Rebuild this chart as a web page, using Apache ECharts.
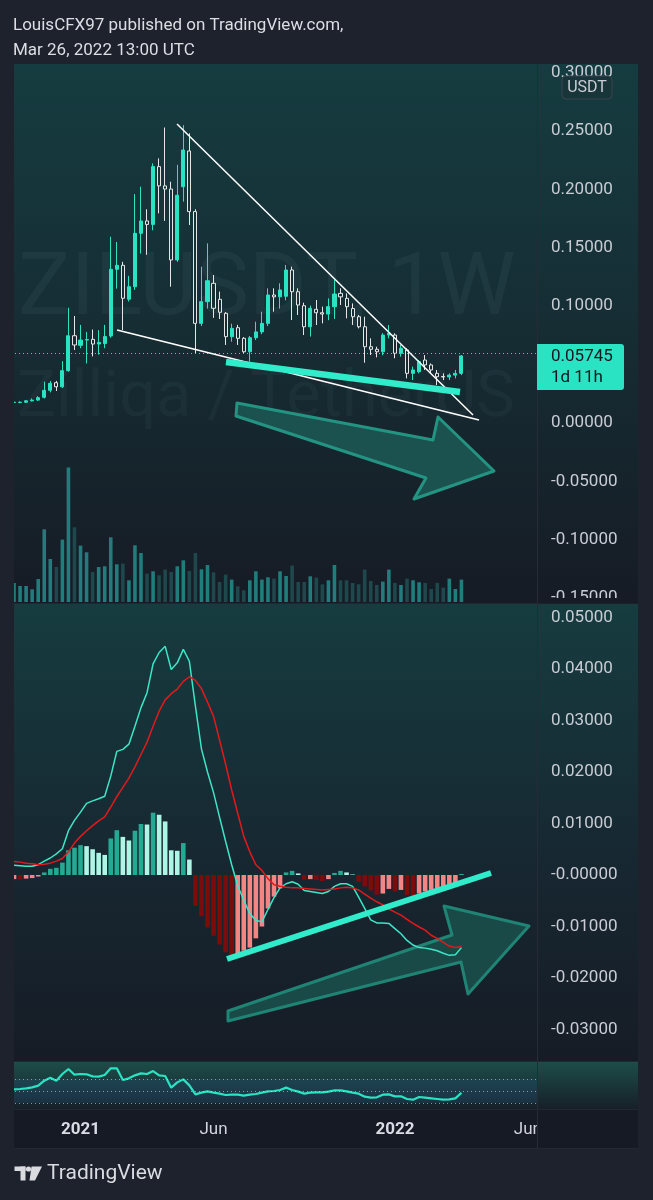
<!DOCTYPE html>
<html><head><meta charset="utf-8">
<script src="https://cdn.jsdelivr.net/npm/echarts@6/dist/echarts.min.js"></script>
<style>html,body{margin:0;padding:0;background:#1e222d;}#c{width:653px;height:1200px;}</style>
</head><body><div id="c"></div>
<script>
// ---------- data (weekly ZIL/USDT, first bar = week of 2020-10-19) ----------
const firstWeek = '2020-10-19';
const futureWeeks = 12;
const opens = [0.0176,0.0175,0.0178,0.0190,0.0196,0.0220,0.0280,0.0345,0.0310,0.0448,
 0.0747,0.0665,0.0710,0.0716,0.0676,0.0680,0.0745,0.1316,0.1350,0.1060,
 0.1167,0.1624,0.1730,0.1700,0.2195,0.2030,0.2003,0.1396,0.2023,0.2329,
 0.1810,0.0853,0.1039,0.1196,0.1059,0.0939,0.0739,0.0816,0.0725,0.0610,
 0.0730,0.0780,0.0853,0.1096,0.1080,0.1085,0.1310,0.1124,0.1004,0.0824,
 0.0973,0.0944,0.0933,0.0996,0.1110,0.1067,0.0980,0.0910,0.0824,0.0653,
 0.0631,0.0610,0.0753,0.0753,0.0597,0.0625,0.0425,0.0439,0.0539,0.0497,
 0.0425,0.0398,0.0394,0.0410,0.0425];
const closes = [0.0178,0.0178,0.0190,0.0196,0.0217,0.0280,0.0340,0.0310,0.0448,0.0747,
 0.0668,0.0710,0.0715,0.0676,0.0690,0.0740,0.1316,0.1350,0.1068,0.1167,
 0.1624,0.1730,0.1700,0.2195,0.2030,0.2003,0.1396,0.1950,0.2337,0.1810,
 0.0853,0.1039,0.1218,0.0982,0.0948,0.0739,0.0810,0.0725,0.0610,0.0730,
 0.0780,0.0853,0.1096,0.1080,0.1139,0.1310,0.1124,0.1010,0.0824,0.0982,
 0.0944,0.0933,0.0996,0.1104,0.1080,0.0996,0.0910,0.0824,0.0653,0.0631,
 0.0610,0.0753,0.0768,0.0597,0.0640,0.0425,0.0454,0.0525,0.0497,0.0454,
 0.0396,0.0394,0.0410,0.0425,0.05745];
const lows = [0.0170,0.0170,0.0172,0.0185,0.0190,0.0210,0.0262,0.0274,0.0300,0.0439,
 0.0625,0.0640,0.0510,0.0570,0.0585,0.0640,0.0730,0.1150,0.0796,0.1040,
 0.1140,0.1450,0.1440,0.1650,0.1795,0.1730,0.1167,0.1380,0.1895,0.1695,
 0.0597,0.0830,0.0980,0.0900,0.0890,0.0668,0.0696,0.0668,0.0593,0.0525,
 0.0710,0.0760,0.0830,0.0953,0.0980,0.1050,0.0882,0.0925,0.0753,0.0740,
 0.0839,0.0853,0.0880,0.0890,0.1010,0.0896,0.0839,0.0810,0.0516,0.0582,
 0.0562,0.0580,0.0725,0.0554,0.0568,0.0382,0.0368,0.0425,0.0454,0.0425,
 0.0325,0.0368,0.0368,0.0382,0.0410];
const highs = [0.0184,0.0185,0.0195,0.0210,0.0230,0.0354,0.0360,0.0360,0.0530,0.0987,
 0.0916,0.0840,0.0780,0.0800,0.0795,0.0840,0.1595,0.1550,0.1380,0.1260,
 0.1960,0.2023,0.1830,0.2223,0.2266,0.2530,0.2066,0.2210,0.2550,0.2480,
 0.1830,0.1338,0.1538,0.1267,0.1125,0.0950,0.0850,0.0840,0.0735,0.0745,
 0.0867,0.0953,0.1153,0.1153,0.1196,0.1353,0.1338,0.1153,0.1030,0.1005,
 0.1053,0.0996,0.1067,0.1224,0.1153,0.1110,0.1024,0.0925,0.0910,0.0725,
 0.0653,0.0770,0.0839,0.0768,0.0668,0.0640,0.0482,0.0539,0.0582,0.0510,
 0.0454,0.0425,0.0425,0.0454,0.0582];
const volumes = [190,160,160,127,230,727,430,350,624,1344,
 747,564,497,300,350,357,647,377,384,217,
 567,490,284,307,267,324,300,357,417,310,
 490,327,370,297,200,274,224,157,117,217,
 307,224,247,234,307,260,364,200,200,257,
 244,177,217,370,217,217,190,177,324,210,
 170,204,324,190,170,234,217,197,190,130,
 190,144,234,130,224];
const macdLine = [0.0019,0.0018,0.0017,0.0017,0.0020,0.0027,0.0033,0.0041,0.0051,0.0086,
 0.0106,0.0122,0.0139,0.0144,0.0148,0.0153,0.0192,0.0240,0.0244,0.0254,
 0.0289,0.0325,0.0354,0.0410,0.0432,0.0444,0.0399,0.0412,0.0438,0.0415,
 0.0328,0.0245,0.0200,0.0160,0.0112,0.0065,0.0020,-0.0021,-0.0049,-0.0075,
 -0.0088,-0.0091,-0.0067,-0.0044,-0.0025,-0.0017,-0.0013,-0.0018,-0.0030,-0.0032,
 -0.0034,-0.0036,-0.0032,-0.0022,-0.0017,-0.0017,-0.0022,-0.0043,-0.0065,-0.0087,
 -0.0093,-0.0093,-0.0094,-0.0104,-0.0114,-0.0127,-0.0136,-0.0141,-0.0142,-0.0144,
 -0.0147,-0.0152,-0.0156,-0.0155,-0.0141];
const signalLine = [0.0026,0.0025,0.0023,0.0022,0.0020,0.0021,0.0023,0.0027,0.0032,0.0045,
 0.0062,0.0075,0.0086,0.0096,0.0105,0.0113,0.0132,0.0152,0.0170,0.0188,
 0.0210,0.0234,0.0258,0.0289,0.0318,0.0340,0.0352,0.0361,0.0376,0.0385,
 0.0378,0.0362,0.0336,0.0308,0.0262,0.0215,0.0165,0.0120,0.0075,0.0045,
 0.0020,0.0009,-0.0007,-0.0019,-0.0022,-0.0024,-0.0025,-0.0025,-0.0026,-0.0027,
 -0.0028,-0.0029,-0.0028,-0.0027,-0.0025,-0.0024,-0.0025,-0.0029,-0.0037,-0.0045,
 -0.0052,-0.0058,-0.0066,-0.0072,-0.0078,-0.0086,-0.0094,-0.0101,-0.0107,-0.0117,
 -0.0123,-0.0131,-0.0138,-0.0141,-0.0139];
const macdHist = [-0.0008,-0.0009,-0.0007,-0.0006,-0.0003,0.0005,0.0012,0.0014,0.0024,0.0048,
 0.0053,0.0058,0.0056,0.0050,0.0043,0.0039,0.0071,0.0087,0.0074,0.0067,
 0.0086,0.0099,0.0098,0.0121,0.0117,0.0104,0.0048,0.0047,0.0062,0.0030,
 -0.0060,-0.0080,-0.0102,-0.0118,-0.0135,-0.0150,-0.0164,-0.0154,-0.0147,-0.0141,
 -0.0123,-0.0100,-0.0065,-0.0042,-0.0026,0.0005,0.0008,0.0003,-0.0009,-0.0008,
 -0.0010,-0.0012,-0.0008,0.0004,0.0008,0.0005,0.0001,-0.0013,-0.0022,-0.0030,
 -0.0038,-0.0036,-0.0027,-0.0032,-0.0029,-0.0039,-0.0042,-0.0036,-0.0032,-0.0029,
 -0.0026,-0.0023,-0.0019,-0.0016,0.0002];
const rsiValues = [52.8,53.3,54.4,56.1,58.9,67.2,71.9,67.2,78.3,86.7,
 77.2,78.3,77.8,74.4,73.9,76.7,87.8,87.8,68.3,71.1,
 76.1,79.4,78.3,83.3,76.1,75.0,55.6,64.4,69.4,59.4,
 44.4,47.2,49.4,47.2,45.6,43.3,43.9,43.9,42.2,43.9,
 45.0,47.2,49.4,50.0,51.7,55.6,51.7,48.9,45.6,47.2,
 47.8,47.8,48.9,51.1,51.1,49.4,47.2,45.6,40.6,38.9,
 39.4,43.9,44.4,41.1,41.1,36.7,35.6,40.0,38.9,37.8,
 36.7,35.6,36.1,37.8,47.2];
const priceTicks = [0.30,0.25,0.20,0.15,0.10,0.05,0.00,-0.05,-0.10,-0.15];
const macdTicks = [0.05,0.04,0.03,0.02,0.01,0.00,-0.01,-0.02,-0.03];
const rsiLevels = [70,50,30];
const timeTickDates = ['2021-01-04','2021-06-07','2022-01-03','2022-06-06'];
const timeTickLabels = ['2021','Jun','2022','Jun'];
const countdownText = '1d 11h';
const symbolWatermark = 'ZILUSDT, 1W';
const nameWatermark = 'Zilliqa / TetherUS';

// ---------- derived ----------
const nBars = opens.length;
const cats = [];
const t0 = Date.parse(firstWeek + 'T00:00:00Z');
for (let i = 0; i < nBars + futureWeeks; i++) cats.push(new Date(t0 + i * 7 * 86400000).toISOString().slice(0, 10));
const lastPrice = closes[nBars - 1];

const UP = '#2ae3c2', DOWN_BORDER = '#e6e6e6';
const candleData = opens.map((o, i) => [o, closes[i], lows[i], highs[i]]);
const volData = volumes.map((v, i) => ({value: v, itemStyle: {color: closes[i] >= opens[i] ? '#217c7c' : '#1e484b'}}));
const histData = macdHist.map((v, i) => {
  const prev = i > 0 ? macdHist[i - 1] : null;
  let c;
  if (v >= 0) c = (prev === null || v >= prev) ? '#24a992' : '#aef5e6';
  else c = (prev === null || v > prev) ? '#f28686' : '#7c0c0c';
  return {value: v, itemStyle: {color: c}};
});

const FONT = 'Roboto, "Noto Sans", sans-serif';
const chart = echarts.init(document.getElementById('c'), null, {renderer: 'canvas'});

const tickIdx = new Set(timeTickDates.map(d => cats.indexOf(d)));
const xBase = {type: 'category', data: cats, boundaryGap: true, axisLine: {show: false}, axisTick: {show: false}, axisLabel: {show: false}, splitLine: {show: false}};
const yLabel = {color: '#c9ccd4', fontSize: 17, margin: 14, fontFamily: FONT};

const grids = [
  {left: 11, right: 116, top: 64, height: 539},
  {left: 11, right: 116, top: 441, height: 161},
  {left: 11, right: 116, top: 604, height: 457},
  {left: 11, right: 116, top: 1063, height: 45}
];

chart.setOption({
  animation: false,
  backgroundColor: 'transparent',
  textStyle: {fontFamily: FONT},
  grid: grids,
  xAxis: [
    Object.assign({}, xBase, {gridIndex: 0}),
    Object.assign({}, xBase, {gridIndex: 1}),
    Object.assign({}, xBase, {gridIndex: 2}),
    Object.assign({}, xBase, {gridIndex: 3, axisLabel: {
      show: true, margin: 13, color: '#d1d4dc', fontSize: 17, fontFamily: FONT,
      interval: (i) => tickIdx.has(i),
      formatter: (v) => { const j = timeTickDates.indexOf(v); if (j < 0) return ''; const t = timeTickLabels[j]; return /^\d{4}$/.test(t) ? '{y|' + t + '}' : t; },
      rich: {y: {fontWeight: 'bold', fontSize: 17, color: '#d9dce3', fontFamily: FONT}}
    }})
  ],
  yAxis: [
    {gridIndex: 0, type: 'value', position: 'right', min: -0.15411, max: 0.30736, axisLine: {show: false}, axisTick: {show: false}, splitLine: {show: false},
     axisLabel: Object.assign({customValues: priceTicks, formatter: v => v.toFixed(5)}, yLabel)},
    {gridIndex: 1, type: 'value', min: 0, max: 1610, show: false, splitLine: {show: false}},
    {gridIndex: 2, type: 'value', position: 'right', min: -0.036117, max: 0.052621, axisLine: {show: false}, axisTick: {show: false}, splitLine: {show: false},
     axisLabel: Object.assign({customValues: macdTicks, formatter: v => Math.abs(v) < 1e-9 ? '-0.00000' : v.toFixed(5)}, yLabel)},
    {gridIndex: 3, type: 'value', min: 21.67, max: 96.67, show: false, splitLine: {show: false}}
  ],
  series: [
    {type: 'bar', name: 'Volume', xAxisIndex: 1, yAxisIndex: 1, data: volData, barWidth: 3.6, z: 1},
    {type: 'candlestick', name: 'ZILUSDT', xAxisIndex: 0, yAxisIndex: 0, data: candleData, barWidth: 3.6, z: 3,
     itemStyle: {color: UP, borderColor: UP, color0: 'rgba(0,0,0,0)', borderColor0: DOWN_BORDER, borderWidth: 1},
     markLine: {silent: true, symbol: ['none', 'none'], label: {show: false}, lineStyle: {color: '#2ae3c2', type: [1, 3], width: 1}, data: [{yAxis: lastPrice}]}},
    {type: 'bar', name: 'Histogram', xAxisIndex: 2, yAxisIndex: 2, data: histData, barWidth: 4.6, z: 2},
    {type: 'line', name: 'MACD', xAxisIndex: 2, yAxisIndex: 2, data: macdLine, symbol: 'none', lineStyle: {color: '#3de6c6', width: 1.5}, z: 4},
    {type: 'line', name: 'Signal', xAxisIndex: 2, yAxisIndex: 2, data: signalLine, symbol: 'none', lineStyle: {color: '#e3191c', width: 1.5}, z: 4},
    {type: 'line', name: 'RSI', xAxisIndex: 3, yAxisIndex: 3, data: rsiValues, symbol: 'none', lineStyle: {color: '#2ae3c2', width: 2.2}, z: 4,
     markLine: {silent: true, symbol: ['none', 'none'], label: {show: false}, lineStyle: {color: 'rgba(215,220,228,0.6)', type: [1, 3], width: 1}, data: rsiLevels.map(v => ({yAxis: v}))},
     markArea: {silent: true, itemStyle: {color: 'rgba(40,95,150,0.22)'}, data: [[{yAxis: rsiLevels[2]}, {yAxis: rsiLevels[0]}]]}}
  ]
});

// ---------- decorations ----------
const lg = (stops) => ({type: 'linear', x: 0, y: 0, x2: 0, y2: 1, colorStops: stops.map(s => ({offset: s[0], color: s[1]}))});
const pxLast = chart.convertToPixel({yAxisIndex: 0}, lastPrice);
const g = [];
// pane backgrounds
g.push({type: 'rect', z: -10, silent: true, shape: {x: 14, y: 64, width: 624, height: 539}, style: {fill: lg([[0, '#153c40'], [0.55, '#162b32'], [1, '#161b25']])}});
g.push({type: 'rect', z: -10, silent: true, shape: {x: 14, y: 604, width: 624, height: 457}, style: {fill: lg([[0, '#163c40'], [0.6, '#172630'], [1, '#161c26']])}});
g.push({type: 'rect', z: -10, silent: true, shape: {x: 14, y: 1062, width: 624, height: 47}, style: {fill: lg([[0, '#1c4d48'], [1, '#171f29']])}});
g.push({type: 'rect', z: -10, silent: true, shape: {x: 14, y: 1110, width: 624, height: 38}, style: {fill: '#161a25'}});
// watermark
g.push({type: 'text', z: -5, silent: true, style: {text: symbolWatermark, x: 18, y: 292, font: '88px Roboto', fill: 'rgba(190,230,230,0.05)', textVerticalAlign: 'middle', verticalAlign: 'middle'}});
g.push({type: 'text', z: -5, silent: true, style: {text: nameWatermark, x: 17, y: 400, font: '65px Roboto', fill: 'rgba(190,230,230,0.04)', textVerticalAlign: 'middle', verticalAlign: 'middle'}});
// separators
g.push({type: 'line', z: 60, silent: true, shape: {x1: 537.5, y1: 64, x2: 537.5, y2: 1148}, style: {stroke: '#262b36', lineWidth: 1}});
[603.5, 1061.5, 1109.5, 1148.5].forEach(y => g.push({type: 'line', z: 60, silent: true, shape: {x1: 14, y1: y, x2: 638, y2: y}, style: {stroke: '#222733', lineWidth: 1}}));
// annotations: main pane
g.push({type: 'polygon', z: 5, silent: true, shape: {points: [[237, 403], [433, 440], [438, 417], [494, 471], [414, 499], [426, 478], [236, 416]]}, style: {fill: '#1b524f', stroke: '#249482', lineWidth: 3, lineJoin: 'round'}});
g.push({type: 'line', z: 20, silent: true, shape: {x1: 177, y1: 124, x2: 473, y2: 415}, style: {stroke: '#ffffff', lineWidth: 1.5}});
g.push({type: 'line', z: 20, silent: true, shape: {x1: 117, y1: 330, x2: 479, y2: 420}, style: {stroke: '#ffffff', lineWidth: 1.5}});
g.push({type: 'line', z: 21, silent: true, shape: {x1: 226, y1: 362, x2: 460, y2: 392}, style: {stroke: '#30ecca', lineWidth: 6.5}});
// annotations: MACD pane
g.push({type: 'polygon', z: 1, silent: true, shape: {points: [[228, 1011], [452, 935], [444, 906], [529, 926], [468, 994], [461, 962], [228, 1021]]}, style: {fill: '#1a4a48', stroke: '#1f8474', lineWidth: 3, lineJoin: 'round'}});
g.push({type: 'line', z: 21, silent: true, shape: {x1: 227, y1: 959, x2: 491, y2: 873}, style: {stroke: '#30ecca', lineWidth: 6}});
// covers (clip)
g.push({type: 'rect', z: 100, silent: true, shape: {x: 0, y: 64, width: 14, height: 1090}, style: {fill: '#1e222d'}});
g.push({type: 'rect', z: 100, silent: true, shape: {x: 538, y: 1110, width: 100, height: 38}, style: {fill: '#161a25'}});
g.push({type: 'rect', z: 100, silent: true, shape: {x: 538, y: 598, width: 100, height: 5.5}, style: {fill: '#161b25'}});
g.push({type: 'rect', z: 100, silent: true, shape: {x: 538, y: 604, width: 100, height: 6}, style: {fill: '#163c40'}});
// price box
g.push({type: 'rect', z: 90, silent: true, shape: {x: 537, y: pxLast - 12, width: 87, height: 46, r: [0, 3, 3, 0]}, style: {fill: '#2ae3c2'}});
g.push({type: 'text', z: 91, silent: true, style: {text: lastPrice.toFixed(5), x: 551, y: pxLast + 1, font: '17px Roboto', fill: '#131722', textVerticalAlign: 'middle', verticalAlign: 'middle'}});
g.push({type: 'text', z: 91, silent: true, style: {text: countdownText, x: 551, y: pxLast + 22, font: '17px Roboto', fill: '#131722', textVerticalAlign: 'middle', verticalAlign: 'middle'}});
// USDT badge
g.push({type: 'rect', z: 90, silent: true, shape: {x: 562, y: 76, width: 50, height: 23, r: 4}, style: {fill: '#18353a', stroke: '#3b4550', lineWidth: 1}});
g.push({type: 'text', z: 91, silent: true, style: {text: 'USDT', x: 587, y: 88, font: '16px Roboto', fill: '#c9ccd4', textAlign: 'center', align: 'center', textVerticalAlign: 'middle', verticalAlign: 'middle'}});
// header
g.push({type: 'text', z: 91, silent: true, style: {text: 'LouisCFX97 published on TradingView.com,', x: 13, y: 26, font: '17px Roboto', fill: '#dcdee4', textVerticalAlign: 'middle', verticalAlign: 'middle'}});
g.push({type: 'text', z: 91, silent: true, style: {text: 'Mar 26, 2022 13:00 UTC', x: 13, y: 51, font: '17px Roboto', fill: '#dcdee4', textVerticalAlign: 'middle', verticalAlign: 'middle'}});
// TradingView logo
g.push({type: 'rect', z: 91, silent: true, shape: {x: 14.5, y: 1166.5, width: 11, height: 4.5}, style: {fill: '#d9dbe1'}});
g.push({type: 'rect', z: 91, silent: true, shape: {x: 20.5, y: 1166.5, width: 5, height: 14}, style: {fill: '#d9dbe1'}});
g.push({type: 'circle', z: 91, silent: true, shape: {cx: 28.5, cy: 1169, r: 2.6}, style: {fill: '#d9dbe1'}});
g.push({type: 'polygon', z: 91, silent: true, shape: {points: [[31.5, 1166.5], [42, 1166.5], [35, 1180.5], [29.5, 1180.5]]}, style: {fill: '#d9dbe1'}});
g.push({type: 'text', z: 91, silent: true, style: {text: 'TradingView', x: 47, y: 1174, font: '21px Roboto', fill: '#d9dbe1', textVerticalAlign: 'middle', verticalAlign: 'middle'}});

chart.setOption({graphic: {elements: g}});
</script></body></html>
